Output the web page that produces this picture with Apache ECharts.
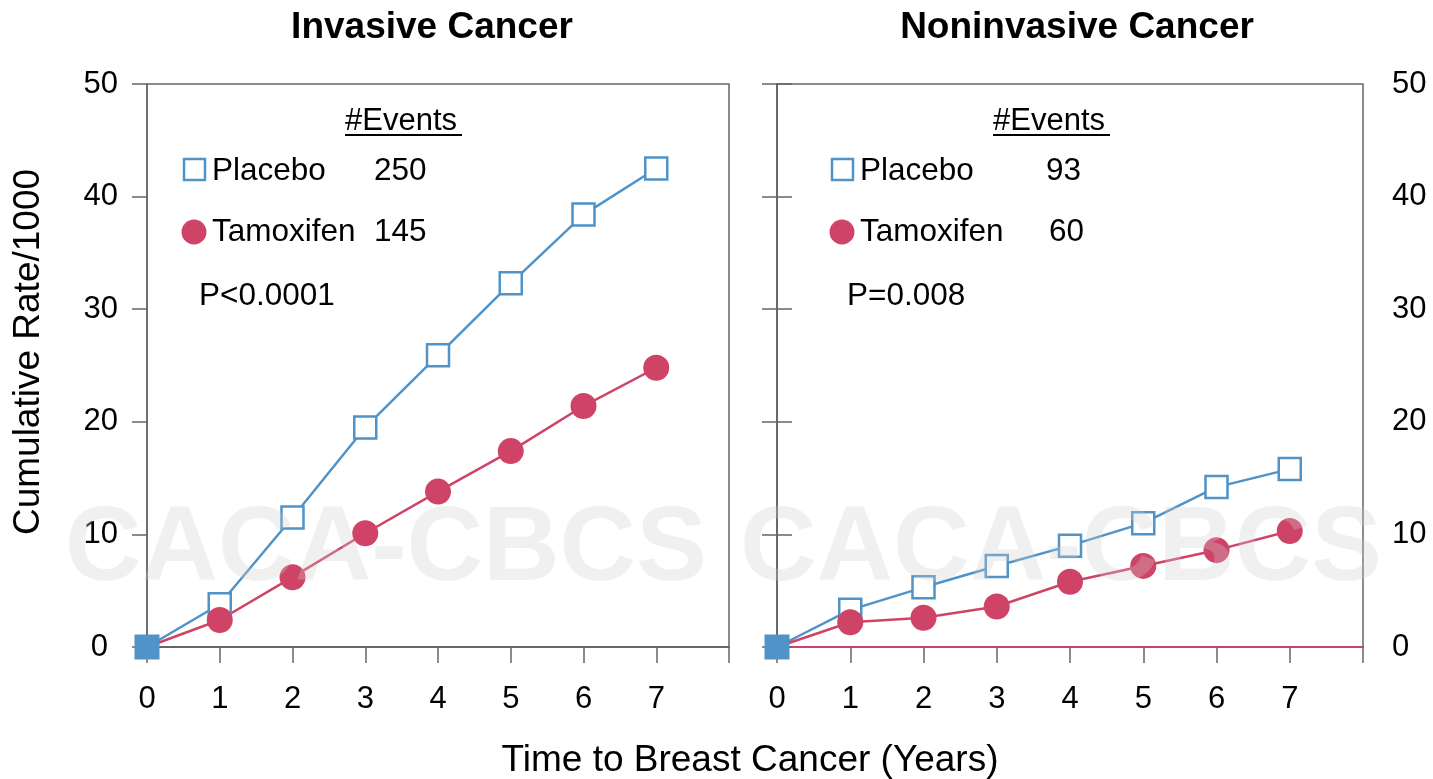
<!DOCTYPE html>
<html>
<head>
<meta charset="utf-8">
<title>Cumulative rate of breast cancer</title>
<script src="https://cdn.jsdelivr.net/npm/echarts@6/dist/echarts.min.js"></script>
<style>
  html, body { margin: 0; padding: 0; background: #fff; }
  #chart { width: 1433px; height: 779px; }
</style>
</head>
<body>
<div id="chart"></div>
<script>
// years on the x axis
const years = [0, 1, 2, 3, 4, 5, 6, 7]
const xTicks = [0, 1, 2, 3, 4, 5, 6, 7]
const yTicks = [0, 10, 20, 30, 40, 50]

// cumulative rate per 1000
const invasivePlacebo = [0, 3.8, 11.5, 19.5, 25.9, 32.3, 38.4, 42.5]
const invasiveTamoxifen = [0, 2.4, 6.2, 10.1, 13.8, 17.4, 21.4, 24.8]
const noninvasivePlacebo = [0, 3.3, 5.3, 7.2, 9.0, 11.0, 14.2, 15.8]
const noninvasiveTamoxifen = [0, 2.2, 2.6, 3.6, 5.8, 7.2, 8.6, 10.3]

// legend numbers
const invasiveEvents = { placebo: '250', tamoxifen: '145', p: 'P<0.0001' }
const noninvasiveEvents = { placebo: '93', tamoxifen: '60', p: 'P=0.008' }

const BLUE = '#4F93C8'
const RED = '#CF4466'
const AXIS = '#666'
const FONT = '"Liberation Sans", Arial, sans-serif'

function pairs(vals) {
  return years.map((x, i) => {
    // first point is covered by the filled origin square
    if (i === 0) return { value: [x, vals[i]], symbol: 'none' }
    return [x, vals[i]]
  })
}

function xAxisFor(idx, lineColor) {
  return {
    type: 'value',
    gridIndex: idx,
    min: 0,
    max: 8,
    interval: 1,
    axisLine: { show: true, onZero: false, lineStyle: { color: lineColor, width: 2 } },
    axisTick: { show: true, inside: false, length: 16, lineStyle: { color: AXIS, width: 1.5 } },
    axisLabel: {
      fontSize: 31, color: '#000', fontFamily: FONT, margin: 37,
      formatter: v => (xTicks.indexOf(v) >= 0 ? String(v) : '')
    },
    splitLine: { show: false }
  }
}

function yAxisFor(idx, pos, showLabel) {
  return {
    type: 'value',
    gridIndex: idx,
    position: pos,
    min: yTicks[0],
    max: yTicks[yTicks.length - 1],
    interval: 10,
    axisLine: { show: true, lineStyle: { color: AXIS, width: 1.5 } },
    axisTick: { show: true, inside: false, length: 15, lineStyle: { color: AXIS, width: 1.5 } },
    axisLabel: {
      show: showLabel, fontSize: 31, color: '#000', fontFamily: FONT, margin: 29,
      formatter: v => (v === 0 && pos === 'left' ? '{z|0}' : String(v)),
      rich: { z: { fontSize: 31, fontFamily: FONT, color: '#000', padding: [0, 10, 0, 0] } }
    },
    splitLine: { show: false }
  }
}

function lineSeries(name, idx, vals, color, hollow) {
  return {
    name: name,
    type: 'line',
    xAxisIndex: idx,
    yAxisIndex: idx === 0 ? 0 : 1,
    data: pairs(vals),
    symbol: hollow ? 'rect' : 'circle',
    symbolSize: hollow ? 22 : 26,
    showSymbol: true,
    lineStyle: { color: color, width: 2.5 },
    itemStyle: hollow
      ? { color: '#fff', borderColor: color, borderWidth: 2.5 }
      : { color: color, borderWidth: 0 },
    emphasis: { disabled: true },
    z: 3
  }
}

function originSeries(idx, vals) {
  return {
    type: 'scatter',
    xAxisIndex: idx,
    yAxisIndex: idx === 0 ? 0 : 1,
    data: [[years[0], vals[0]]],
    symbol: 'rect',
    symbolSize: 25,
    itemStyle: { color: BLUE, opacity: 1 },
    emphasis: { disabled: true },
    z: 6
  }
}

function txt(x, y, s, size, extra) {
  return {
    type: 'text',
    x: x, y: y,
    style: Object.assign({
      text: s, fontSize: size, fontFamily: FONT, fill: '#000',
      align: 'left', verticalAlign: 'middle'
    }, extra || {}),
    z: 10
  }
}

function legendBlock(x0, numX, ev) {
  const n2 = ev.tamoxifen.length === 2 ? numX + 3 : numX
  return [
    txt(x0 + 151, 121, '#Events', 31),
    { type: 'line', shape: { x1: x0 + 151, y1: 135, x2: x0 + 268, y2: 135 },
      style: { stroke: '#000', lineWidth: 2 }, z: 10 },
    { type: 'rect', shape: { x: x0 - 10, y: 159, width: 21, height: 21 },
      style: { fill: '#fff', stroke: BLUE, lineWidth: 2.5 }, z: 10 },
    txt(x0 + 18, 171, 'Placebo', 31.5),
    txt(numX, 171, ev.placebo, 31.5),
    { type: 'circle', shape: { cx: x0, cy: 232, r: 12.5 }, style: { fill: RED }, z: 10 },
    txt(x0 + 18, 232, 'Tamoxifen', 31.5),
    txt(n2, 232, ev.tamoxifen, 31.5),
    txt(x0 + 5, 296, ev.p, 31.5)
  ]
}

const chart = echarts.init(document.getElementById('chart'))

chart.setOption({
  animation: false,
  backgroundColor: '#fff',
  grid: [
    { left: 147, top: 84, width: 582, height: 563, show: true, borderColor: AXIS, borderWidth: 1.5,
      containLabel: false, outerBoundsMode: 'none' },
    { left: 777, top: 84, width: 586, height: 563, show: true, borderColor: AXIS, borderWidth: 1.5,
      containLabel: false, outerBoundsMode: 'none' }
  ],
  xAxis: [xAxisFor(0, AXIS), xAxisFor(1, RED)],
  yAxis: [
    yAxisFor(0, 'left', true),
    yAxisFor(1, 'right', true),
    yAxisFor(1, 'left', false)
  ],
  series: [
    lineSeries('Placebo', 0, invasivePlacebo, BLUE, true),
    lineSeries('Tamoxifen', 0, invasiveTamoxifen, RED, false),
    originSeries(0, invasivePlacebo),
    lineSeries('Placebo', 1, noninvasivePlacebo, BLUE, true),
    lineSeries('Tamoxifen', 1, noninvasiveTamoxifen, RED, false),
    originSeries(1, noninvasivePlacebo)
  ],
  graphic: [
    // titles
    txt(432, 28, 'Invasive Cancer', 37, { fontWeight: 'bold', align: 'center' }),
    txt(1077, 28, 'Noninvasive Cancer', 37, { fontWeight: 'bold', align: 'center' }),
    // axis names
    txt(750, 761, 'Time to Breast Cancer (Years)', 37, { align: 'center' }),
    { type: 'text', x: 29, y: 352, rotation: Math.PI / 2,
      style: { text: 'Cumulative Rate/1000', fontSize: 37, fontFamily: FONT, fill: '#000', align: 'center', verticalAlign: 'middle' }, z: 10 },
    // legends
    ...legendBlock(194, 374, invasiveEvents),
    ...legendBlock(842, 1046, noninvasiveEvents),
    // watermark
    txt(65, 551, 'CACA-CBCS', 106, { fontWeight: 'bold', fill: 'rgba(205,205,205,0.3)' }),
    txt(740, 551, 'CACA-CBCS', 106, { fontWeight: 'bold', fill: 'rgba(205,205,205,0.3)' })
  ].map(g => (g.style && g.style.text === 'CACA-CBCS' ? Object.assign(g, { z: 20 }) : g))
})
</script>
</body>
</html>
